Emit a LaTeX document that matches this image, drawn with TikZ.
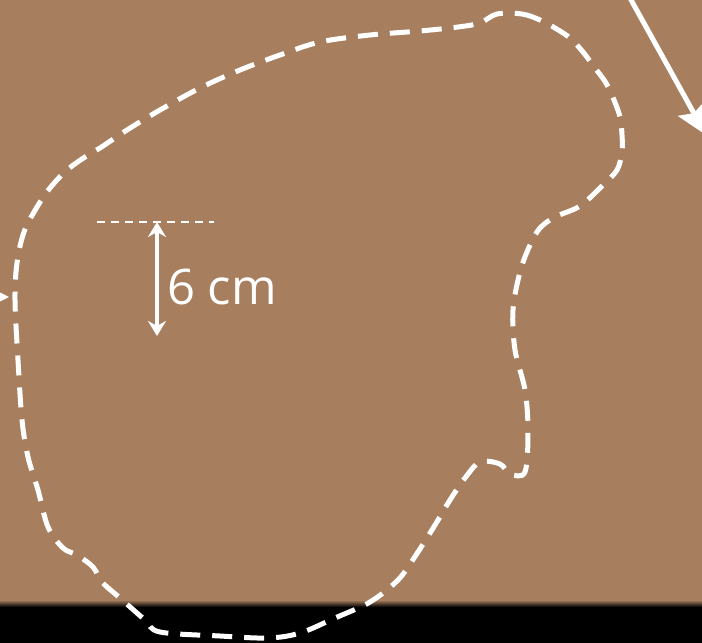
\documentclass[tikz,border=0pt]{standalone}
\usepackage{fontspec}
\setmainfont{Open Sans}
\usetikzlibrary{arrows.meta}
\definecolor{soil}{RGB}{167,127,95}
\tikzset{
  outline/.style={white, line width=5pt, dash pattern=on 20pt off 12pt, line cap=butt},
  dimline/.style={white, line width=1.6pt, dash pattern=on 8pt off 6pt},
  dimarrow/.style={white, line width=4pt, {Stealth[length=15pt,width=18pt,inset=5pt]}-{Stealth[length=15pt,width=18pt,inset=5pt]}},
  bigarrow/.style={white, line width=5pt, -{Stealth[length=30pt,width=30pt,inset=5pt]}},
  lbl/.style={white, font=\fontsize{49}{49}\selectfont, inner sep=0pt, anchor=west}
}
\begin{document}
\begin{tikzpicture}[x=1pt,y=-1pt]
\useasboundingbox (0,0) rectangle (702,643);
\fill[soil] (0,0) rectangle (702,643);
\fill[black] (0,605) rectangle (702,643);
\shade[top color=soil, bottom color=black] (0,600) rectangle (702,607);
% outline
\draw[outline] plot[smooth cycle, tension=0.55] coordinates {
 (497,14) (522,14) (540,20) (555,28) (570,38) (583,52) (595,68) (606,83) (614,100)
 (620,117) (622,135) (622,152) (617,170) (603,185) (580,206) (555,217) (540,228)
 (530,245) (520,272) (513,310) (515,350) (525,390) (528,430)
 (525,472) (510,474) (500,464) (480,462) (465,478) (450,500) (435,525) (416,555)
 (398,580) (370,602) (335,618) (300,633) (268,638) (220,636) (160,632) (145,620)
 (120,598) (102,582) (93,567) (77,555) (63,548) (48,527) (38,490) (28,457) (22,420) (18,360)
 (15,300) (17,263) (24,232) (37,207) (50,188) (67,170) (88,155) (100,148) (127,130)
 (160,110) (200,88) (240,70) (280,55) (320,42) (370,35) (420,31) (458,27) (480,23)};
% dimension
\coordinate (d1) at (97,222);
\coordinate (d2) at (214,222);
\draw[dimline] (d1) -- (d2);
\coordinate (a1) at (157,222);
\coordinate (a2) at (157,336);
\draw[dimarrow] (a1) -- (a2);
\node[lbl] (t) at (167,287) {6 cm};
% arrows at edges
\coordinate (b1) at (630,-2);
\coordinate (b2) at (706,135);
\draw[bigarrow] (b1) -- (b2);
\coordinate (c1) at (-20,297);
\coordinate (c2) at (9,297);
\draw[white, line width=2pt, -{Stealth[length=12pt,width=12pt]}] (c1) -- (c2);
\end{tikzpicture}
\end{document}
